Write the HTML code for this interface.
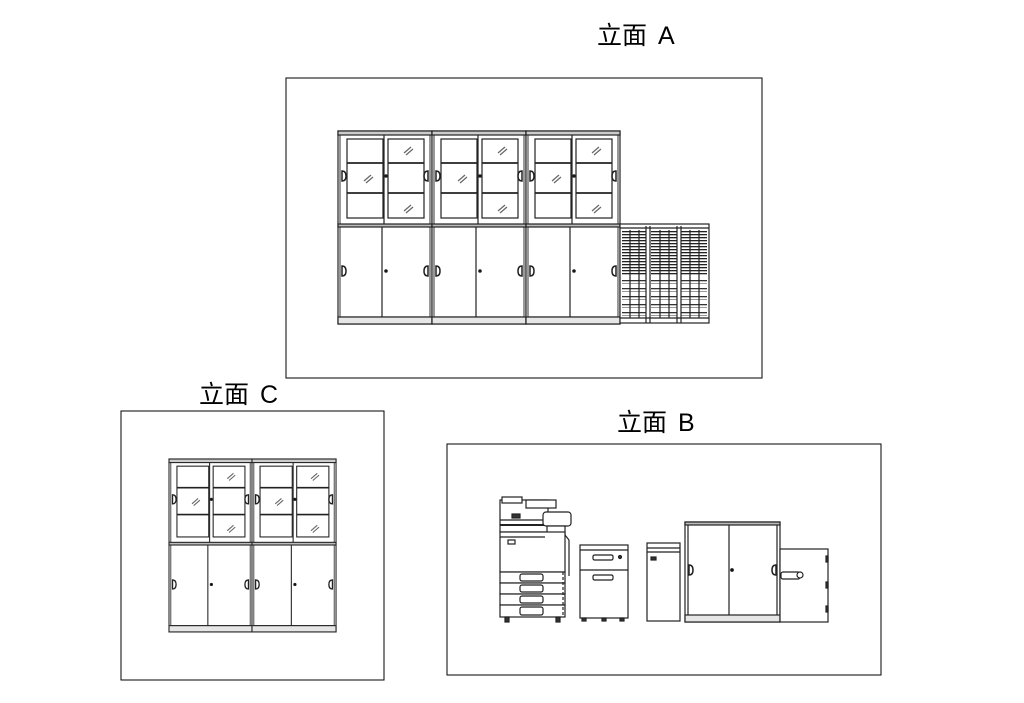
<!DOCTYPE html>
<html><head><meta charset="utf-8"><style>
html,body{margin:0;padding:0;background:#fff;}
svg{display:block}
text{font-family:"Liberation Sans","Noto Sans CJK SC",sans-serif;font-size:25px;fill:#000}
</style></head><body>
<svg width="1024" height="703" viewBox="0 0 1024 703" xmlns="http://www.w3.org/2000/svg">
<defs>
<pattern id="dense" width="10" height="3" patternUnits="userSpaceOnUse">
<rect width="10" height="3" fill="#fff"/><rect y="0" width="10" height="1.3" fill="#222"/></pattern>
<pattern id="sparse" width="10" height="8" patternUnits="userSpaceOnUse">
<rect width="10" height="8" fill="#fff"/><rect y="0" width="10" height="1.3" fill="#333"/><rect y="3" width="10" height="1" fill="#999"/></pattern>
<g id="unit" fill="none" stroke="#222" stroke-width="1.2">
<rect x="0" y="0" width="94" height="193" fill="#fff"/>
<rect x="2" y="2" width="90" height="184" stroke="#555"/>
<rect x="0" y="0" width="94" height="4" fill="#ccc"/>
<rect x="9" y="8" width="36" height="79"/>
<rect x="50" y="8" width="36" height="79"/>
<line x1="9" y1="32" x2="45" y2="32" stroke-width="1.8"/>
<line x1="9" y1="62" x2="45" y2="62" stroke-width="1.8"/>
<line x1="50" y1="32" x2="86" y2="32" stroke-width="1.8"/>
<line x1="50" y1="62" x2="86" y2="62" stroke-width="1.8"/>
<line x1="46" y1="4" x2="46" y2="94"/>
<rect x="0" y="93" width="94" height="3" fill="#bbb"/>
<line x1="44" y1="96" x2="44" y2="186"/>
<rect x="0" y="186" width="94" height="7" fill="#e6e6e6"/>
<path d="M4,40 q4,0 4,5 q0,5 -4,5 z" stroke-width="1.5"/>
<path d="M90,40 q-4,0 -4,5 q0,5 4,5 z" stroke-width="1.5"/>
<path d="M4,135 q4,0 4,5 q0,5 -4,5 z" stroke-width="1.5"/>
<path d="M90,135 q-4,0 -4,5 q0,5 4,5 z" stroke-width="1.5"/>
<circle cx="48" cy="45" r="1.2" fill="#000"/>
<circle cx="48" cy="140" r="1.2" fill="#000"/>
<path d="M26,50 l7,-6 M28,52 l7,-6" stroke="#666"/>
<path d="M66,22 l7,-6 M68,24 l7,-6" stroke="#666"/>
<path d="M66,80 l7,-6 M68,82 l7,-6" stroke="#666"/>
</g>
</defs>

<!-- A -->
<text x="597" y="44">立面</text><text x="658" y="44">A</text>
<rect x="286" y="78" width="476" height="300" fill="none" stroke="#000" stroke-width="1"/>
<use href="#unit" x="338" y="131"/>
<use href="#unit" x="432" y="131"/>
<use href="#unit" x="526" y="131"/>
<g stroke="#222" stroke-width="1.2" fill="none">
<rect x="620" y="224" width="89" height="99" fill="#fff"/>
<rect x="622" y="230" width="24" height="45" fill="url(#dense)" stroke="none"/>
<rect x="651" y="230" width="26" height="45" fill="url(#dense)" stroke="none"/>
<rect x="681" y="230" width="26" height="45" fill="url(#dense)" stroke="none"/>
<rect x="622" y="278" width="24" height="40" fill="url(#sparse)" stroke="none"/>
<rect x="651" y="278" width="26" height="40" fill="url(#sparse)" stroke="none"/>
<rect x="681" y="278" width="26" height="40" fill="url(#sparse)" stroke="none"/>
<line x1="646" y1="226" x2="646" y2="323"/><line x1="650" y1="226" x2="650" y2="323"/>
<line x1="677" y1="226" x2="677" y2="323"/><line x1="681" y1="226" x2="681" y2="323"/>
<line x1="630" y1="230" x2="630" y2="318"/><line x1="639" y1="230" x2="639" y2="318"/>
<line x1="660" y1="230" x2="660" y2="318"/><line x1="669" y1="230" x2="669" y2="318"/>
<line x1="690" y1="230" x2="690" y2="318"/><line x1="699" y1="230" x2="699" y2="318"/>
<line x1="620" y1="228" x2="709" y2="228"/>
<line x1="620" y1="318" x2="709" y2="318"/>
</g>

<!-- C -->
<text x="199" y="403">立面</text><text x="260" y="403">C</text>
<rect x="121" y="411" width="263" height="269" fill="none" stroke="#000" stroke-width="1"/>
<g transform="translate(169,459) scale(0.883,0.896)"><use href="#unit"/></g>
<g transform="translate(252,459) scale(0.894,0.896)"><use href="#unit"/></g>

<!-- B -->
<text x="617" y="431">立面</text><text x="678" y="431">B</text>
<rect x="447" y="444" width="434" height="231" fill="none" stroke="#000" stroke-width="1"/>
<g stroke="#222" stroke-width="1.2" fill="#fff">
<!-- copier -->
<rect x="500" y="500" width="48" height="32"/>
<rect x="502" y="497" width="20" height="6"/>
<rect x="526" y="500" width="30" height="8"/>
<rect x="512" y="514" width="8" height="4" fill="#333"/>
<line x1="500" y1="520" x2="548" y2="520"/>
<line x1="500" y1="525" x2="548" y2="525" stroke-width="2"/>
<rect x="543" y="512" width="28" height="14" rx="3"/>
<rect x="547" y="526" width="18" height="9"/>
<rect x="500" y="532" width="65" height="40"/>
<line x1="500" y1="537" x2="545" y2="537"/>
<rect x="508" y="540" width="7" height="4"/>
<line x1="565" y1="535" x2="569" y2="540"/><line x1="569" y1="540" x2="569" y2="576"/>
<rect x="500" y="572" width="65" height="11"/><rect x="520" y="574" width="23" height="7" rx="2"/>
<rect x="500" y="583" width="65" height="11"/><rect x="520" y="585" width="23" height="7" rx="2"/>
<rect x="500" y="594" width="65" height="11"/><rect x="520" y="596" width="23" height="7" rx="2"/>
<rect x="500" y="605" width="65" height="12"/><rect x="520" y="607" width="23" height="8" rx="2"/>
<line x1="563" y1="572" x2="563" y2="617" stroke-dasharray="3,2"/>
<rect x="505" y="617" width="4" height="5" fill="#333"/><rect x="556" y="617" width="4" height="5" fill="#333"/>
<!-- pedestal -->
<rect x="580" y="545" width="48" height="73"/>
<line x1="580" y1="550" x2="628" y2="550"/>
<line x1="580" y1="570" x2="628" y2="570"/>
<rect x="593" y="555" width="20" height="5" rx="1.5"/>
<rect x="593" y="575" width="20" height="5" rx="1.5"/>
<circle cx="620" cy="557" r="1.5" fill="#333"/>
<rect x="582" y="618" width="4" height="3" fill="#333"/><rect x="602" y="618" width="4" height="3" fill="#333"/><rect x="620" y="618" width="4" height="3" fill="#333"/>
<!-- shredder -->
<rect x="647" y="543" width="33" height="78"/>
<line x1="647" y1="548" x2="680" y2="548"/>
<line x1="647" y1="552" x2="680" y2="552"/>
<rect x="651" y="557" width="5" height="3" fill="#333"/>
<!-- cabinet -->
<rect x="685" y="522" width="95" height="100"/>
<rect x="685" y="522" width="95" height="3" fill="#bbb"/>
<line x1="688" y1="525" x2="688" y2="615"/><line x1="777" y1="525" x2="777" y2="615"/>
<line x1="729" y1="525" x2="729" y2="615"/>
<rect x="685" y="615" width="95" height="7" fill="#e6e6e6"/>
<path d="M689,565 q4,0 4,5 q0,5 -4,5 z" fill="none" stroke-width="1.5"/>
<path d="M776,565 q-4,0 -4,5 q0,5 4,5 z" fill="none" stroke-width="1.5"/>
<circle cx="732" cy="570" r="1.3" fill="#000"/>
<!-- safe -->
<rect x="780" y="549" width="48" height="73"/>
<rect x="781" y="572" width="19" height="7" rx="2"/>
<circle cx="800" cy="575" r="3"/>
<rect x="826" y="556" width="2" height="6" fill="#333"/>
<rect x="826" y="582" width="2" height="6" fill="#333"/>
<rect x="826" y="606" width="2" height="6" fill="#333"/>
</g>
</svg>
</body></html>
